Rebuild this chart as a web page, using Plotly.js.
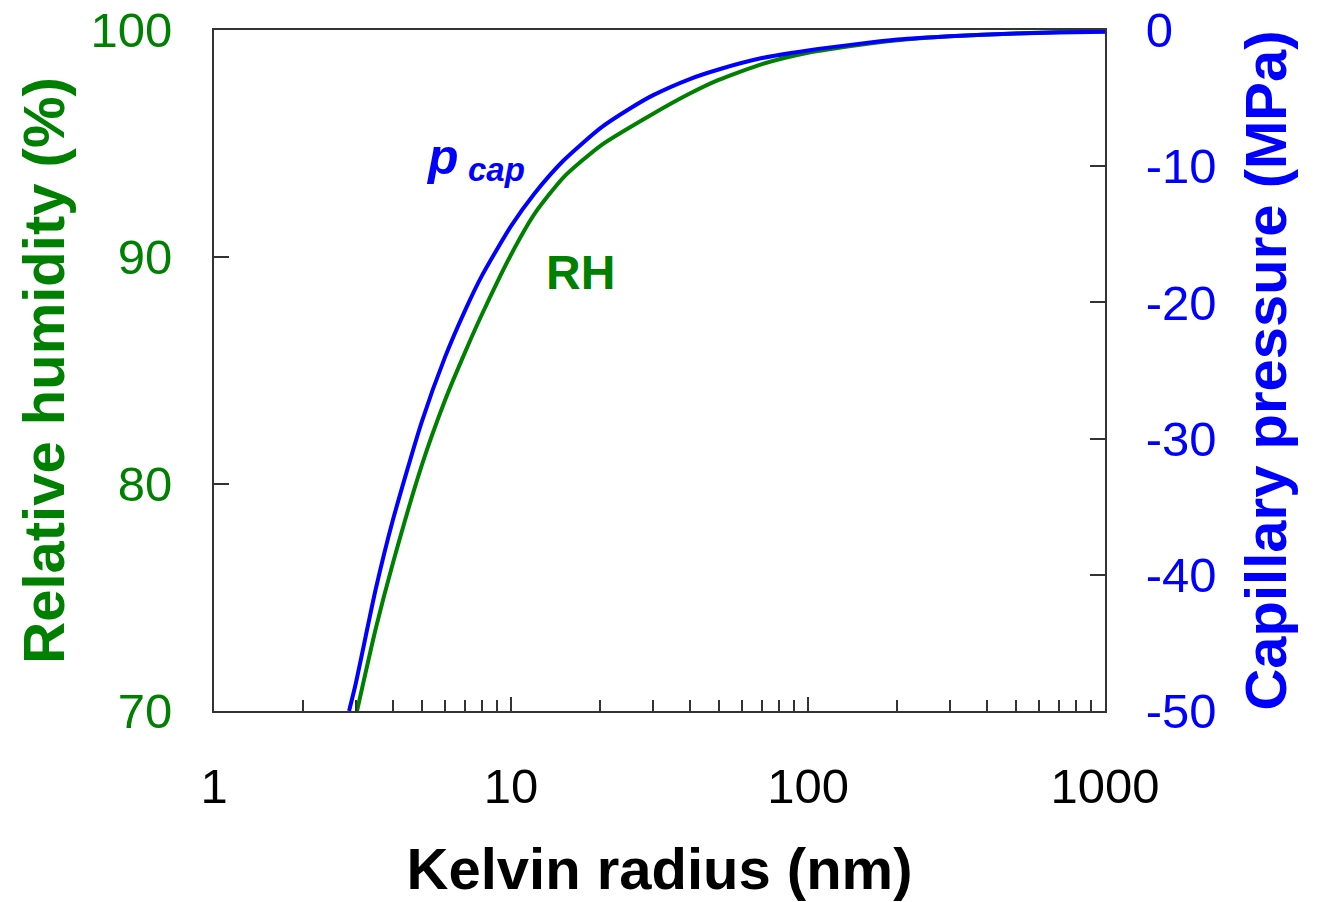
<!DOCTYPE html>
<html>
<head>
<meta charset="utf-8">
<script src="https://cdn.plot.ly/plotly-3.0.1.min.js"></script>
<style>html,body{margin:0;padding:0;background:#fff;}#chart{width:1319px;height:902px;}</style>
</head>
<body>
<div id="chart"></div>
<script>
// Kelvin radius (nm)
const radiusRH = [3.03, 3.5, 4, 5, 6, 7, 8, 10, 12, 15, 20, 30, 40, 50, 70, 100, 150, 200, 300, 500, 700, 1000];
// Relative humidity (%)
const rhValues = [70.0, 73.6, 76.5, 80.8, 83.7, 85.8, 87.5, 90.1, 91.9, 93.5, 94.9, 96.3, 97.2, 97.8, 98.5, 99.0, 99.35, 99.55, 99.72, 99.85, 99.91, 99.95];

const radiusP = [2.85, 3, 3.5, 4, 5, 6, 7, 8, 10, 12, 15, 20, 25, 30, 40, 50, 70, 100, 150, 200, 300, 500, 700, 1000];
// Capillary pressure (MPa)
const pcapValues = [-50, -48, -41.1, -36, -28.8, -24, -20.6, -18, -14.4, -12, -9.6, -7.2, -5.8, -4.8, -3.6, -2.9, -2.06, -1.5, -1.0, -0.7, -0.45, -0.25, -0.18, -0.12];

const xTickVals = [1, 10, 100, 1000];
const xTickText = ['1', '10', '100', '1000'];
const y2TickVals = [0, -10, -20, -30, -40, -50];
const y2TickText = ['0', '-10', '-20', '-30', '-40', '-50'];

const GREEN = '#008000';
const BLUE = '#0000ff';
const FONT = 'Liberation Sans, Arial, sans-serif';

const traces = [
  {x: radiusRH, y: rhValues, type: 'scatter', mode: 'lines', name: 'RH',
   line: {color: GREEN, width: 4, shape: 'spline', smoothing: 0.6}, yaxis: 'y', hoverinfo: 'x+y'},
  {x: radiusP, y: pcapValues, type: 'scatter', mode: 'lines', name: 'p cap',
   line: {color: BLUE, width: 4, shape: 'spline', smoothing: 0.6}, yaxis: 'y2', hoverinfo: 'x+y'}
];

const layout = {
  width: 1319, height: 902,
  margin: {l: 214, r: 214, t: 30, b: 191},
  paper_bgcolor: '#fff', plot_bgcolor: '#fff',
  showlegend: false,
  font: {family: FONT, size: 49, color: '#000'},
  xaxis: {
    type: 'log', range: [0, 3],
    tickvals: xTickVals, ticktext: xTickText,
    ticks: 'inside', ticklen: 14, tickwidth: 2, tickcolor: '#333',
    minor: {ticks: 'inside', ticklen: 11, tickwidth: 2, tickcolor: '#333', dtick: 'D1', showgrid: false},
    showline: true, linecolor: '#333', linewidth: 2, mirror: true,
    showgrid: false, zeroline: false,
    tickfont: {family: FONT, size: 49, color: '#000'},
    ticklabelstandoff: 31,
    title: {text: '<b>Kelvin radius (nm)</b>', font: {family: FONT, size: 58, color: '#000'}, standoff: 37},
    automargin: false
  },
  yaxis: {
    range: [70, 100], dtick: 10,
    ticks: 'inside', ticklen: 15, tickwidth: 2, tickcolor: '#333',
    showline: true, linecolor: '#333', linewidth: 2,
    showgrid: false, zeroline: false,
    tickfont: {family: FONT, size: 49, color: GREEN},
    ticklabelstandoff: 30,
    title: {text: '<b>Relative humidity (%)</b>', font: {family: FONT, size: 58, color: GREEN}, standoff: 7},
    automargin: false
  },
  yaxis2: {
    overlaying: 'y', side: 'right',
    range: [-50, 0],
    tickvals: y2TickVals, ticktext: y2TickText,
    ticks: 'inside', ticklen: 15, tickwidth: 2, tickcolor: '#333',
    showline: true, linecolor: '#333', linewidth: 2,
    showgrid: false, zeroline: false,
    tickfont: {family: FONT, size: 49, color: BLUE},
    ticklabelstandoff: 29,
    title: {text: '<b>Capillary pressure (MPa)</b>', font: {family: FONT, size: 58, color: BLUE}, standoff: 30},
    automargin: false
  },
  annotations: [
    {xref: 'paper', yref: 'paper', x: 0.2559, y: 0.8135, xanchor: 'center', yanchor: 'middle',
     text: '<b><i>p</i></b>', showarrow: false, font: {family: FONT, size: 50, color: BLUE}},
    {xref: 'paper', yref: 'paper', x: 0.3165, y: 0.795, xanchor: 'center', yanchor: 'middle',
     text: '<b><i>cap</i></b>', showarrow: false, font: {family: FONT, size: 33, color: BLUE}},
    {xref: 'paper', yref: 'paper', x: 0.4108, y: 0.6446, xanchor: 'center', yanchor: 'middle',
     text: '<b>RH</b>', showarrow: false, font: {family: FONT, size: 48, color: GREEN}}
  ]
};

Plotly.newPlot('chart', traces, layout, {displayModeBar: false, staticPlot: true});
</script>
</body>
</html>
